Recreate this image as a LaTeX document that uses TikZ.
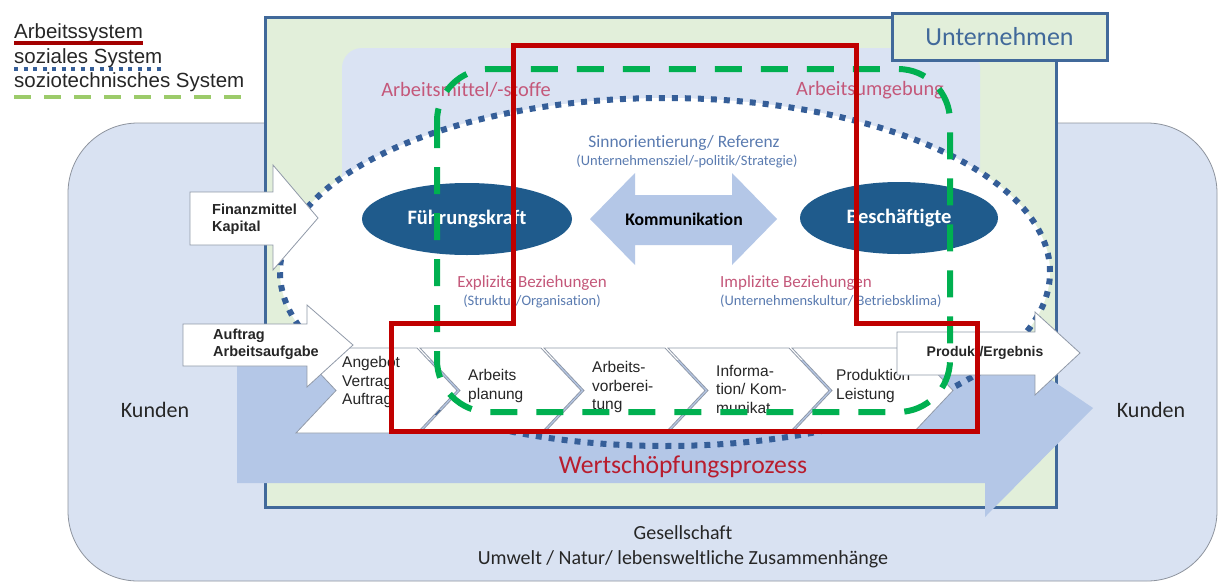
\documentclass[tikz,border=0pt]{standalone}
\usepackage{fontspec}
\setmainfont{Carlito}[RawFeature={-liga}]
\newfontfamily\arialfont{Liberation Sans}
\usepackage{tikz}
\usepackage{xcolor}
\usetikzlibrary{positioning,calc,shapes.geometric}
\definecolor{firmblue}{HTML}{41699A}
\definecolor{firmgreen}{HTML}{E2EFDA}
\definecolor{worldblue}{HTML}{D9E2F2}
\definecolor{envblue}{HTML}{DAE3F3}
\definecolor{flowblue}{HTML}{B4C7E7}
\definecolor{leadblue}{HTML}{1F5B8C}
\definecolor{sysred}{HTML}{C00000}
\definecolor{sysgreen}{HTML}{00B050}
\definecolor{leggreen}{HTML}{9CCB6A}
\definecolor{dotblue}{HTML}{355E98}
\definecolor{rosetext}{HTML}{C4587A}
\definecolor{softblue}{HTML}{5A7BB0}
\definecolor{chevgray}{HTML}{9099A8}
\definecolor{valuered}{HTML}{B81D2E}
\newcommand\txtsize[2]{\fontsize{#1}{#2}\selectfont}

\begin{document}
\begin{tikzpicture}[x=1pt,y=-1pt,every node/.style={inner sep=0pt,text=black!85},
  chevron/.style={fill=white,draw=chevgray,line width=0.8pt},
  inarrow/.style={fill=white,draw=chevgray,line width=0.8pt},
  chevtext/.style={anchor=west,align=left,font=\arialfont\txtsize{15.5}{18.5}},
  intext/.style={anchor=west,align=left,font=\arialfont\bfseries\txtsize{14.5}{17}},
  legtext/.style={anchor=base west,font=\arialfont\txtsize{20.5}{24}},
  roselabel/.style={text=rosetext,font=\txtsize{17}{20}},
  bluelabel/.style={text=softblue,font=\txtsize{14.5}{17}},
  person/.style={ellipse,fill=leadblue,text=white,font=\bfseries\txtsize{20.5}{24},minimum height=72pt}]
  \useasboundingbox (0,0) rectangle (1221,584);

  \draw[fill=worldblue,draw=black!35!worldblue,line width=0.8pt,rounded corners=70pt] (68,123) rectangle (1217,581);
  \draw[fill=firmgreen,draw=firmblue,line width=3pt] (265,17) rectangle (1056,507);
  \fill[envblue,rounded corners=20pt] (342,48) rectangle (980,470);
  \fill[white] (665,272) ellipse [x radius=385pt,y radius=174pt];
  \fill[flowblue] (237,360) -- (985,360) -- (985,335) -- (1093,408) -- (985,517) -- (985,483) -- (237,483) -- cycle;
  \draw[dotblue,line width=6pt,dash pattern=on 6pt off 7pt] (665,272) ellipse [x radius=385pt,y radius=174pt];

  \node[draw=firmblue,line width=3pt,fill=firmgreen,minimum width=215pt,minimum height=47pt,
    text=firmblue,font=\txtsize{26}{30}] (firm) at (999.5,36.5) {Unternehmen};

  \node[legtext] (legwork) at (14,38) {Arbeitssystem};
  \node[legtext] (legsocial) at (14,63) {soziales System};
  \node[legtext] (legsocio) at (14,87) {soziotechnisches System};
  \draw[sysred!85!black,line width=4pt] ([yshift=-5pt]legwork.base west) -- ([yshift=-5pt]legwork.base east);
  \draw[dotblue,line width=4pt,dash pattern=on 4pt off 5.5pt] ([yshift=-6pt]legsocial.base west) -- ([yshift=-6pt]legsocial.base east);
  \draw[leggreen,line width=3.5pt,dash pattern=on 17pt off 13pt] ([yshift=-10pt]legsocio.base west) -- ([yshift=-10pt]legsocio.base east);

  \node[text=rosetext,font=\txtsize{20.4}{24}] (tools) at (466,90) {Arbeitsmittel/-stoffe};
  \node[text=rosetext,font=\txtsize{20.4}{24}] (surround) at (870,90) {Arbeitsumgebung};
  \node[text=softblue,font=\txtsize{17.4}{20}] (sense) at (684,143) {Sinnorientierung/ Referenz};
  \node[bluelabel] (goals) at (687,161) {(Unternehmensziel/-politik/Strategie)};

  \fill[flowblue] (590,219) -- (635,173) -- (635,195) -- (732,195) -- (732,173) -- (777,219)
    -- (732,265) -- (732,245) -- (635,245) -- (635,265) -- cycle;
  \node[font=\bfseries\txtsize{17.7}{20},text=black] (talk) at (684,219) {Kommunikation};
  \node[person,minimum width=210pt] (lead) at (467,219) {Führungskraft};
  \node[person,minimum width=198pt] (staff) at (899,218) {Beschäftigte};

  \node[roselabel] (explicit) at (532,283) {Explizite Beziehungen};
  \node[bluelabel] (structure) at (532,301) {(Struktur/Organisation)};
  \node[roselabel,anchor=west] (implicit) at (720,283) {Implizite Beziehungen};
  \node[bluelabel,anchor=west] (culture) at (720,301) {(Unternehmenskultur/ Betriebsklima)};

  \filldraw[chevron] (296,348) -- ++(121,0) -- ++(40,42.5) -- ++(-40,42.5) -- ++(-121,0) -- ++(40,-42.5) -- cycle;
  \filldraw[chevron] (420,348) -- ++(121,0) -- ++(40,42.5) -- ++(-40,42.5) -- ++(-121,0) -- ++(40,-42.5) -- cycle;
  \filldraw[chevron] (544,348) -- ++(121,0) -- ++(40,42.5) -- ++(-40,42.5) -- ++(-121,0) -- ++(40,-42.5) -- cycle;
  \filldraw[chevron] (668,348) -- ++(121,0) -- ++(40,42.5) -- ++(-40,42.5) -- ++(-121,0) -- ++(40,-42.5) -- cycle;
  \filldraw[chevron] (792,348) -- ++(121,0) -- ++(40,42.5) -- ++(-40,42.5) -- ++(-121,0) -- ++(40,-42.5) -- cycle;
  \node[chevtext] (offer) at (342,382) {Angebot\\Vertrag\\Auftrag};
  \node[chevtext] (planning) at (468,386) {Arbeits\\planung};
  \node[chevtext] (prep) at (592,387) {Arbeits-\\vorberei-\\tung};
  \node[chevtext] (info) at (716,389) {Informa-\\tion/ Kom-\\munikat};
  \node[chevtext] (output) at (836,386) {Produktion\\Leistung};

  \filldraw[inarrow] (190,192) -- (273,192) -- (273,165) -- (318,218) -- (273,270) -- (273,245) -- (190,245) -- cycle;
  \node[intext] (money) at (212,219) {Finanzmittel\\Kapital};
  \filldraw[inarrow] (183,324) -- (307,324) -- (307,305) -- (353,345) -- (307,387) -- (307,366) -- (183,366) -- cycle;
  \node[intext] (order) at (213,344) {Auftrag\\Arbeitsaufgabe};
  \filldraw[inarrow] (897,332) -- (1035,332) -- (1035,312) -- (1080,353) -- (1035,395) -- (1035,375) -- (897,375) -- cycle;
  \node[intext,anchor=center,font=\arialfont\bfseries\txtsize{14}{17}] (result) at (985,353) {Produkt/Ergebnis};

  \draw[sysgreen,line width=6pt,dash pattern=on 27pt off 19pt,rounded corners=52pt] (437,69) rectangle (950,412);
  \draw[sysred,line width=5pt] (513,45) -- (856,45) -- (856,323) -- (977,323) -- (977,431) -- (391,431) -- (391,323) -- (513,323) -- cycle;

  \node[text=valuered,font=\txtsize{25.7}{30}] (value) at (683,467) {Wertschöpfungsprozess};
  \node[font=\txtsize{22}{26}] (custleft) at (155,410) {Kunden};
  \node[font=\txtsize{22}{26}] (custright) at (1151,410) {Kunden};
  \node[font=\txtsize{20}{24}] (society) at (683,533) {Gesellschaft};
  \node[font=\txtsize{20}{24}] (nature) at (683,559) {Umwelt / Natur/ lebensweltliche Zusammenhänge};
\end{tikzpicture}
\end{document}
